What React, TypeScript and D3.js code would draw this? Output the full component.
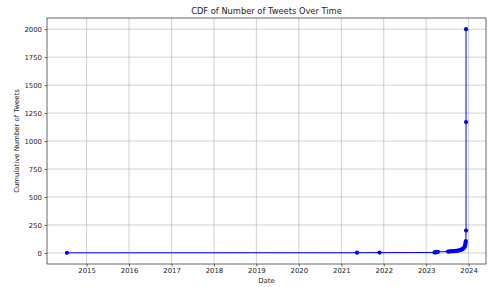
import { useEffect, useRef } from 'react';
import * as d3 from 'd3';

const WIDTH = 495;
const HEIGHT = 287;
const MARGIN = { top: 18, right: 9, bottom: 23, left: 47 };

// tweet dates and the running total at each date
const dates = [
  '2014-07-16', '2021-05-16', '2021-11-26',
  '2023-03-14', '2023-03-18', '2023-03-24', '2023-03-30', '2023-04-06', '2023-04-12',
  '2023-07-08', '2023-07-18', '2023-07-28', '2023-08-08', '2023-08-20', '2023-09-01',
  '2023-09-12', '2023-09-22', '2023-10-02', '2023-10-12', '2023-10-22', '2023-10-30',
  '2023-11-06', '2023-11-14', '2023-11-22', '2023-11-28', '2023-12-02', '2023-12-04',
  '2023-12-06', '2023-12-08', '2023-12-10', '2023-12-10', '2023-12-10',
];
const cumulative = [
  1, 2, 3,
  4, 5, 6, 7, 8, 10,
  12, 13, 14, 15, 16, 17,
  18, 19, 21, 23, 26, 29,
  33, 38, 45, 55, 65, 78,
  90, 105, 200, 1170, 2000,
];
const yTicks = [0, 250, 500, 750, 1000, 1250, 1500, 1750, 2000];
const xTickYears = [2015, 2016, 2017, 2018, 2019, 2020, 2021, 2022, 2023, 2024];

const FONT = 'DejaVu Sans, sans-serif';
const TEXT = '#222';

export default function App() {
  const svgRef = useRef<SVGSVGElement>(null);

  useEffect(() => {
    if (!svgRef.current) return;
    const svg = d3.select(svgRef.current);
    svg.selectAll('*').remove();

    const points = dates.map((d, i) => ({ date: new Date(d + 'T00:00:00'), value: cumulative[i] }));
    const boundsWidth = WIDTH - MARGIN.left - MARGIN.right;
    const boundsHeight = HEIGHT - MARGIN.top - MARGIN.bottom;

    // 5% padding like matplotlib
    const [x0, x1] = d3.extent(points, (d) => d.date.getTime()) as [number, number];
    const xPad = (x1 - x0) * 0.05;
    const xScale = d3
      .scaleTime()
      .domain([new Date(x0 - xPad), new Date(x1 + xPad)])
      .range([0, boundsWidth]);

    const [y0, y1] = d3.extent(points, (d) => d.value) as [number, number];
    const yPad = (y1 - y0) * 0.05;
    const yScale = d3.scaleLinear().domain([y0 - yPad, y1 + yPad]).range([boundsHeight, 0]);

    const g = svg.append('g').attr('transform', `translate(${MARGIN.left},${MARGIN.top})`);

    const xTicks = xTickYears.map((y) => new Date(y, 0, 1));

    // grid
    g.append('g')
      .selectAll('line')
      .data(xTicks)
      .join('line')
      .attr('x1', (d) => xScale(d))
      .attr('x2', (d) => xScale(d))
      .attr('y1', 0)
      .attr('y2', boundsHeight)
      .attr('stroke', '#b0b0b0')
      .attr('stroke-width', 0.6);
    g.append('g')
      .selectAll('line')
      .data(yTicks)
      .join('line')
      .attr('x1', 0)
      .attr('x2', boundsWidth)
      .attr('y1', (d) => yScale(d))
      .attr('y2', (d) => yScale(d))
      .attr('stroke', '#b0b0b0')
      .attr('stroke-width', 0.6);

    // axes
    const xAxis = g
      .append('g')
      .attr('transform', `translate(0,${boundsHeight})`)
      .call(
        d3
          .axisBottom(xScale)
          .tickValues(xTicks)
          .tickFormat((d) => d3.timeFormat('%Y')(d as Date))
          .tickSize(2.5)
          .tickPadding(2)
      );
    const yAxis = g
      .append('g')
      .call(
        d3
          .axisLeft(yScale)
          .tickValues(yTicks)
          .tickFormat(d3.format('d'))
          .tickSize(2.5)
          .tickPadding(2.5)
      );

    [xAxis, yAxis].forEach((ax) => {
      ax.select('.domain').remove();
      ax.selectAll('line').attr('stroke', '#000').attr('stroke-width', 0.6);
      ax.selectAll('text')
        .attr('fill', TEXT)
        .style('font-family', FONT)
        .style('font-size', '6.9px');
    });

    // line + markers
    const line = d3
      .line<{ date: Date; value: number }>()
      .x((d) => xScale(d.date))
      .y((d) => yScale(d.value));
    g.append('path')
      .datum(points)
      .attr('d', line)
      .attr('fill', 'none')
      .attr('stroke', '#0000ff')
      .attr('stroke-width', 1);
    g.append('g')
      .selectAll('circle')
      .data(points)
      .join('circle')
      .attr('cx', (d) => xScale(d.date))
      .attr('cy', (d) => yScale(d.value))
      .attr('r', 2.1)
      .attr('fill', '#0000ff');

    // frame
    g.append('rect')
      .attr('width', boundsWidth)
      .attr('height', boundsHeight)
      .attr('fill', 'none')
      .attr('stroke', '#000')
      .attr('stroke-width', 0.6);

    // labels
    svg
      .append('text')
      .attr('x', MARGIN.left + boundsWidth / 2)
      .attr('y', 14)
      .attr('text-anchor', 'middle')
      .attr('fill', TEXT)
      .style('font-family', FONT)
      .style('font-size', '8.3px')
      .text('CDF of Number of Tweets Over Time');
    svg
      .append('text')
      .attr('x', MARGIN.left + boundsWidth / 2)
      .attr('y', 283)
      .attr('text-anchor', 'middle')
      .attr('fill', TEXT)
      .style('font-family', FONT)
      .style('font-size', '6.9px')
      .text('Date');
    svg
      .append('text')
      .attr('transform', `translate(19,${MARGIN.top + boundsHeight / 2}) rotate(-90)`)
      .attr('text-anchor', 'middle')
      .attr('fill', TEXT)
      .style('font-family', FONT)
      .style('font-size', '6.9px')
      .text('Cumulative Number of Tweets');
  }, []);

  return (
    <svg
      ref={svgRef}
      width={WIDTH}
      height={HEIGHT}
      style={{ position: 'fixed', left: 0, top: 0, background: '#fff' }}
    />
  );
}
